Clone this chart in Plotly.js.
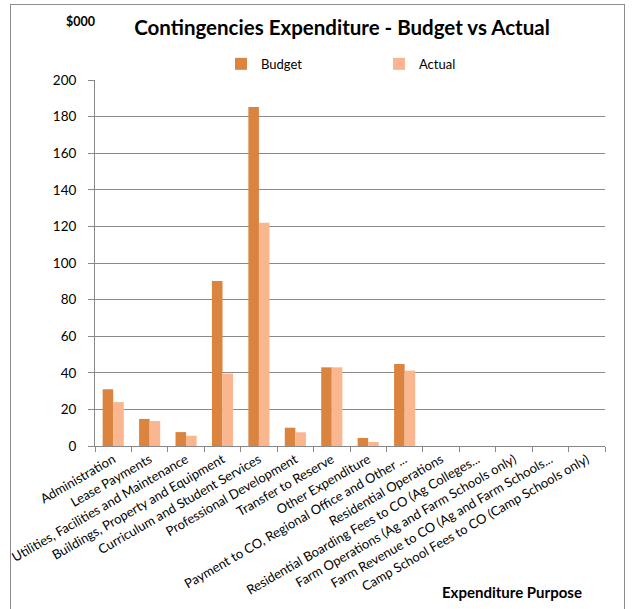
<!DOCTYPE html>
<html>
<head>
<meta charset="utf-8">
<script src="https://cdn.plot.ly/plotly-3.0.1.min.js"></script>
<style>
  html, body { margin: 0; padding: 0; background: #fff; overflow: hidden; }
  #wrap { position: relative; width: 638px; height: 609px; overflow: hidden; }
  #chart { width: 638px; height: 609px; }
  #frame { position: absolute; left: 10px; top: 4px; width: 613px; height: 620px; border: 1px solid #8c8c8c; pointer-events: none; }
</style>
</head>
<body>
<div id="wrap">
  <div id="chart"></div>
  <div id="frame"></div>
</div>
<script>
const categories = [
  "Administration",
  "Lease Payments",
  "Utilities, Facilities and Maintenance",
  "Buildings, Property and Equipment",
  "Curriculum and Student Services",
  "Professional Development",
  "Transfer to Reserve",
  "Other Expenditure",
  "Payment to CO, Regional Office and Other ...",
  "Residential Operations",
  "Residential Boarding Fees to CO (Ag Colleges...",
  "Farm Operations (Ag and Farm Schools only)",
  "Farm Revenue to CO (Ag and Farm Schools...",
  "Camp School Fees to CO (Camp Schools only)"
];
const budget = [31, 14.8, 7.6, 90.2, 185.3, 10, 43, 4.4, 44.8, 0, 0, 0, 0, 0];
const actual = [24, 13.6, 5.6, 39.6, 122, 7.5, 43, 2.2, 41.2, 0, 0, 0, 0, 0];
const yTicks = [0, 20, 40, 60, 80, 100, 120, 140, 160, 180, 200];

const FONT = "Lato, 'Noto Sans', sans-serif";

const traces = [
  { type: "bar", name: "Budget", x: categories, y: budget,
    marker: { color: "#DB8440", line: { width: 0 } } },
  { type: "bar", name: "Actual", x: categories, y: actual,
    marker: { color: "#F9B68F", line: { width: 0 } } }
];

const layout = {
  width: 638, height: 609,
  margin: { l: 95, r: 33, t: 80, b: 163, autoexpand: false },
  paper_bgcolor: "#fff", plot_bgcolor: "#fff",
  font: { family: FONT, size: 12, color: "#000" },
  barmode: "group",
  bargap: 0.42,
  bargroupgap: 0,
  showlegend: true,
  title: { text: "<b>Contingencies Expenditure - Budget vs Actual</b>",
    font: { family: FONT, size: 20.5, color: "#000" },
    x: 0.536, xanchor: "center", xref: "container",
    y: 0.955, yanchor: "middle", yref: "container" },
  legend: { orientation: "h", x: 0.247, xanchor: "left", y: 1.044, yanchor: "middle",
    entrywidth: 113, entrywidthmode: "pixels",
    font: { family: FONT, size: 13, color: "#000" }, itemwidth: 30,
    traceorder: "normal" },
  xaxis: {
    type: "category",
    tickangle: -30,
    tickfont: { family: FONT, size: 13, color: "#000" },
    showline: true, linecolor: "#888", linewidth: 1,
    ticks: "outside", tickson: "boundaries", ticklen: 5, tickcolor: "#888",
    showgrid: false, automargin: false
  },
  yaxis: {
    range: [0, 200],
    tickvals: yTicks,
    ticktext: yTicks.map(String),
    tickfont: { family: FONT, size: 13.5, color: "#000" },
    showline: true, linecolor: "#888", linewidth: 1,
    ticks: "outside", ticklen: 6, tickcolor: "#888",
    ticklabelstandoff: 9,
    showgrid: true, gridcolor: "#8a8a8a", gridwidth: 1,
    zeroline: false, automargin: false
  },
  annotations: [
    { text: "<b>$000</b>", xref: "paper", yref: "paper", x: -0.028, y: 1.16,
      xanchor: "center", yanchor: "middle", showarrow: false,
      font: { family: FONT, size: 12.5, color: "#000" } },
    { text: "<b>Expenditure Purpose</b>", xref: "paper", yref: "paper", x: 0.818, y: -0.399,
      xanchor: "center", yanchor: "middle", showarrow: false,
      font: { family: FONT, size: 15, color: "#000" } }
  ]
};

Plotly.newPlot("chart", traces, layout, { displayModeBar: false, staticPlot: true });
</script>
</body>
</html>
